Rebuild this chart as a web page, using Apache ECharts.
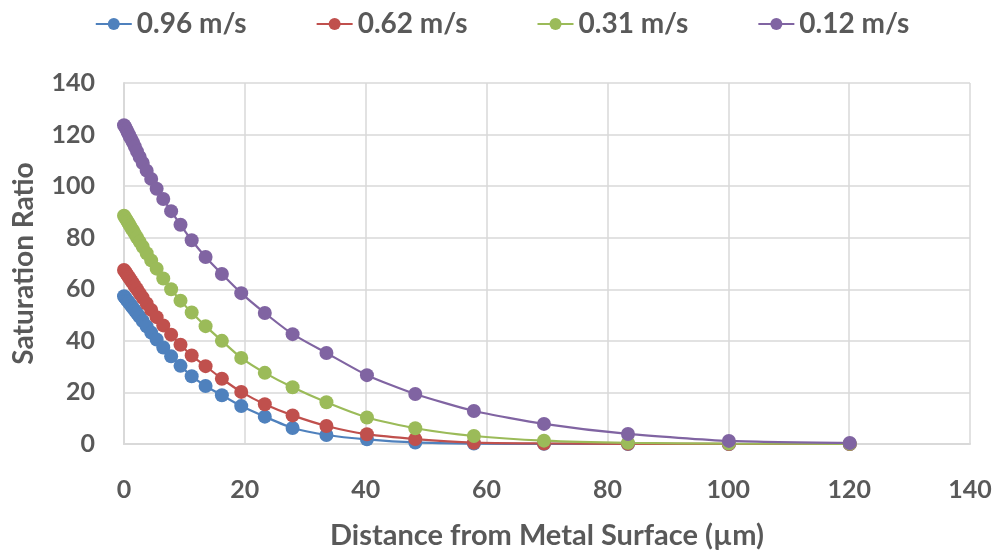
<!DOCTYPE html>
<html>
<head>
<meta charset="utf-8">
<script src="https://cdn.jsdelivr.net/npm/echarts@6/dist/echarts.min.js"></script>
<style>
  html, body { margin: 0; padding: 0; background: #fff; }
  #chart { width: 1004px; height: 550px; }
</style>
</head>
<body>
<div id="chart"></div>
<script>
// Distance from the metal surface (µm) for each sample point
const distance = [0, 0.2, 0.4, 0.6, 0.8, 1.0, 1.25, 1.5, 1.8, 2.15, 2.6, 3.1, 3.75, 4.5, 5.4, 6.5, 7.8, 9.35, 11.2, 13.5, 16.2, 19.4, 23.3, 27.9, 33.5, 40.2, 48.2, 57.9, 69.5, 83.4, 100.1, 120.1];

// Saturation ratio at each distance, one list per flow velocity
const v096 = [57.3, 56.7, 56.1, 55.5, 54.9, 54.3, 53.5, 52.7, 51.8, 50.7, 49.3, 47.7, 45.6, 43.2, 40.5, 37.4, 34.0, 30.3, 26.3, 22.5, 18.9, 14.7, 10.6, 6.2, 3.5, 1.8, 0.6, 0.15, 0.05, 0.01, 0, 0];
const v062 = [67.5, 66.8, 66.1, 65.4, 64.7, 64.0, 63.1, 62.3, 61.2, 60.0, 58.4, 56.7, 54.5, 52.0, 49.2, 46.0, 42.4, 38.5, 34.3, 30.2, 25.3, 20.2, 15.4, 11.1, 7.0, 3.8, 1.9, 0.5, 0.2, 0.05, 0.01, 0];
const v031 = [88.5, 87.7, 87.0, 86.2, 85.4, 84.6, 83.6, 82.7, 81.5, 80.1, 78.4, 76.5, 74.0, 71.2, 68.0, 64.2, 60.0, 55.6, 51.0, 45.7, 40.0, 33.4, 27.6, 22.0, 16.2, 10.3, 6.1, 3.1, 1.3, 0.45, 0.15, 0.05];
const v012 = [123.6, 123.0, 122.0, 121.0, 120.0, 119.0, 118.0, 116.8, 115.3, 113.5, 111.3, 109.0, 106.0, 102.8, 99.0, 95.0, 90.3, 85.0, 79.0, 72.5, 65.9, 58.5, 50.8, 42.6, 35.3, 26.7, 19.4, 12.8, 7.8, 3.9, 1.2, 0.4];

const seriesNames = ['0.96 m/s', '0.62 m/s', '0.31 m/s', '0.12 m/s'];
const seriesValues = [v096, v062, v031, v012];
const seriesColors = ['#4F81BD', '#C0504D', '#9BBB59', '#8064A2'];

// Axis ticks
const xTicks = [0, 20, 40, 60, 80, 100, 120, 140];
const yTicks = [0, 20, 40, 60, 80, 100, 120, 140];

const FONT = 'Lato';
const TEXT = '#595959';
const GRID = '#d9d9d9';

const chart = echarts.init(document.getElementById('chart'), null, { renderer: 'canvas' });

chart.setOption({
  animation: false,
  backgroundColor: '#ffffff',
  color: seriesColors,
  legend: {
    top: 5,
    left: 'center',
    itemWidth: 36,
    itemHeight: 15,
    itemGap: 69,
    textStyle: { fontFamily: FONT, fontWeight: 'bold', fontSize: 28, color: TEXT },
    data: seriesNames
  },
  grid: { left: 124, right: 34, top: 83, bottom: 106, containLabel: false, outerBoundsMode: 'none' },
  xAxis: {
    type: 'value',
    min: xTicks[0],
    max: xTicks[xTicks.length - 1],
    interval: xTicks[1] - xTicks[0],
    name: 'Distance from Metal Surface (µm)',
    nameLocation: 'middle',
    nameGap: 77,
    nameTextStyle: { fontFamily: FONT, fontWeight: 'bold', fontSize: 29, color: TEXT },
    axisLine: { show: true, lineStyle: { color: GRID, width: 2 } },
    axisTick: { show: false },
    axisLabel: { margin: 33, fontFamily: FONT, fontWeight: 'bold', fontSize: 25, color: TEXT },
    splitLine: { show: true, lineStyle: { color: GRID, width: 1.5 } }
  },
  yAxis: {
    type: 'value',
    min: yTicks[0],
    max: yTicks[yTicks.length - 1],
    interval: yTicks[1] - yTicks[0],
    name: 'Saturation Ratio',
    nameLocation: 'middle',
    nameGap: 86,
    nameTextStyle: { fontFamily: FONT, fontWeight: 'bold', fontSize: 28, color: TEXT },
    axisLine: { show: true, lineStyle: { color: GRID, width: 2 } },
    axisTick: { show: false },
    axisLabel: { margin: 29, fontFamily: FONT, fontWeight: 'bold', fontSize: 25, color: TEXT },
    splitLine: { show: true, lineStyle: { color: GRID, width: 1.5 } }
  },
  series: seriesNames.map((name, k) => ({
    name: name,
    type: 'line',
    smooth: 0.2,
    symbol: 'circle',
    symbolSize: 14,
    showSymbol: true,
    lineStyle: { width: 2.2, color: seriesColors[k] },
    itemStyle: { color: seriesColors[k] },
    emphasis: { disabled: true },
    data: distance.map((d, i) => [d, seriesValues[k][i]])
  }))
});
</script>
</body>
</html>
